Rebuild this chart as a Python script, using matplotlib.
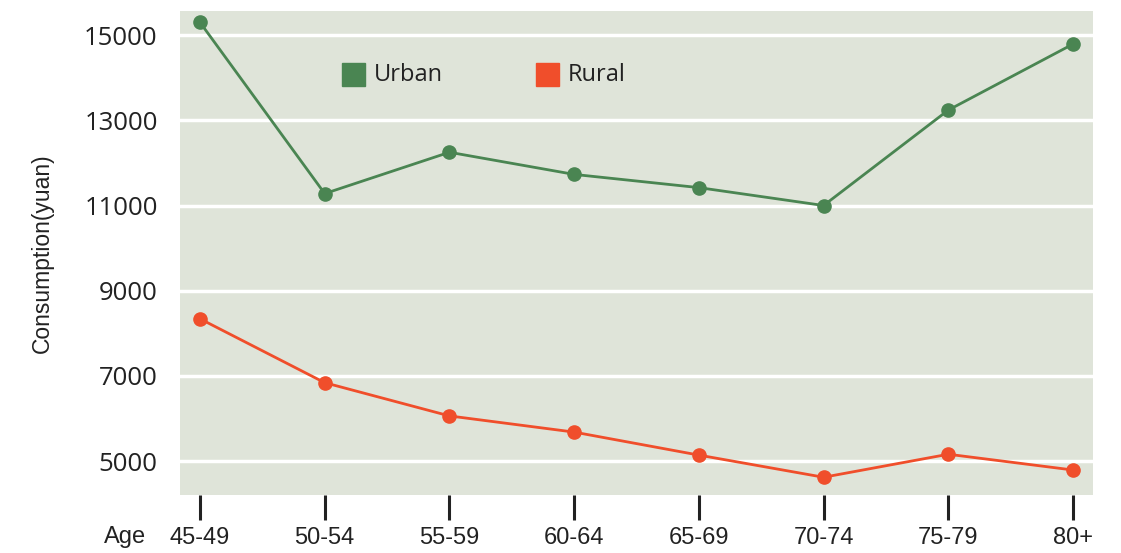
import matplotlib
matplotlib.use("Agg")
import matplotlib.pyplot as plt
from matplotlib.patches import Rectangle

age_groups = ["45-49", "50-54", "55-59", "60-64", "65-69", "70-74", "75-79", "80+"]
urban = [15300, 11280, 12250, 11730, 11420, 11000, 13240, 14790]
rural = [8340, 6840, 6060, 5680, 5140, 4620, 5160, 4790]
y_ticks = [5000, 7000, 9000, 11000, 13000, 15000]

green = "#4a8552"
orange = "#f04e2b"
bg = "#dfe4d9"
ink = "#222222"

fig = plt.figure(figsize=(11.21, 5.53), dpi=100)
ax = fig.add_axes([0.1606, 0.1054, 0.8144, 0.8746])
ax.set_facecolor(bg)

x = list(range(len(age_groups)))
ax.plot(x, urban, color=green, lw=2.0, marker="o", ms=9.5, zorder=3)
ax.plot(x, rural, color=orange, lw=2.0, marker="o", ms=9.5, zorder=3)

ax.set_xlim(-0.16, 7.16)
ax.set_ylim(4210, 15565)
ax.set_yticks(y_ticks)
ax.set_yticklabels([str(v) for v in y_ticks], fontfamily="Open Sans", fontsize=18.5, color=ink)
ax.set_xticks(x)
ax.set_xticklabels(age_groups, fontfamily="Liberation Sans", fontsize=17, color=ink)
ax.tick_params(axis="y", length=0, pad=16)
ax.tick_params(axis="x", direction="out", length=18, width=2.2, color=ink, pad=5)
ax.yaxis.grid(True, color="white", lw=2.5)
ax.set_axisbelow(True)
for s in ax.spines.values():
    s.set_visible(False)

ax.set_ylabel("Consumption(yuan)", fontfamily="Liberation Sans", fontsize=16.5, color=ink, labelpad=22)
fig.text(125 / 1121, 1 - 537 / 553, "Age", fontfamily="Liberation Sans", fontsize=17,
         color=ink, ha="center", va="center")

# legend entries as swatches with labels
for px, label, col in [(342, "Urban", green), (536, "Rural", orange)]:
    fig.patches.append(Rectangle((px / 1121, 1 - 86 / 553), 23 / 1121, 23 / 553,
                                 transform=fig.transFigure, color=col))
    fig.text((px + 32) / 1121, 1 - 75 / 553, label, fontfamily="Open Sans", fontsize=17,
             color=ink, ha="left", va="center")

fig.savefig("out.png", dpi=100)
